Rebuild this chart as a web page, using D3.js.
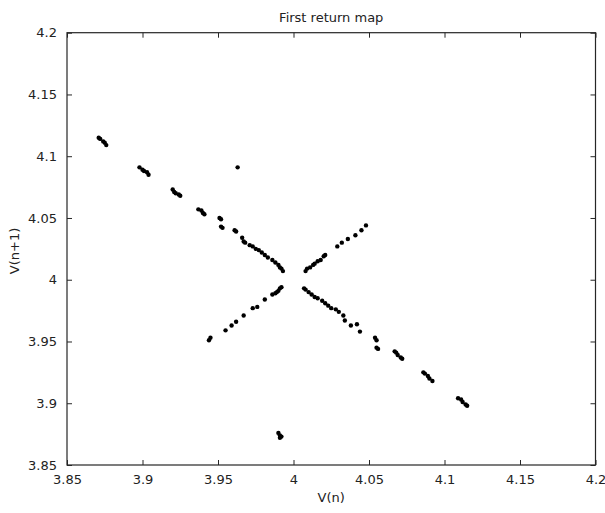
<!DOCTYPE html>
<html>
<head>
<meta charset="utf-8">
<script src="https://cdn.jsdelivr.net/npm/d3@7"></script>
<style>
  body { margin: 0; background: #fff; }
  text { font-family: "DejaVu Sans", sans-serif; fill: #222; }
</style>
</head>
<body>
<div id="container"></div>
<script>
// V(n), V(n+1) pairs
let decreasingArm = [
    [3.871, 4.115], [3.872, 4.114], [3.874, 4.112], [3.875, 4.111], [3.876, 4.109],
    [3.898, 4.091], [3.900, 4.089], [3.901, 4.088], [3.903, 4.087], [3.904, 4.085],
    [3.920, 4.073], [3.921, 4.071], [3.922, 4.070], [3.924, 4.069], [3.925, 4.068],
    [3.937, 4.057], [3.939, 4.056], [3.940, 4.054], [3.941, 4.053],
    [3.951, 4.050], [3.952, 4.049], [3.952, 4.043], [3.953, 4.042],
    [3.961, 4.040], [3.962, 4.039], [3.966, 4.034], [3.967, 4.031], [3.968, 4.030],
    [3.971, 4.028], [3.973, 4.027], [3.975, 4.025], [3.977, 4.024], [3.979, 4.022],
    [3.981, 4.020], [3.983, 4.018], [3.986, 4.016], [3.988, 4.014], [3.990, 4.012],
    [3.991, 4.010], [3.992, 4.009], [3.993, 4.007],
    [4.007, 3.993], [4.008, 3.992], [4.010, 3.990], [4.012, 3.988], [4.014, 3.986],
    [4.016, 3.985], [4.019, 3.983], [4.021, 3.981], [4.023, 3.979], [4.025, 3.977],
    [4.028, 3.976], [4.030, 3.974], [4.033, 3.971], [4.034, 3.967], [4.038, 3.963],
    [4.042, 3.964], [4.044, 3.958],
    [4.054, 3.953], [4.055, 3.951], [4.055, 3.945], [4.056, 3.944],
    [4.067, 3.942], [4.068, 3.941], [4.069, 3.939], [4.071, 3.937], [4.072, 3.936],
    [4.086, 3.925], [4.087, 3.924], [4.089, 3.922], [4.090, 3.920], [4.092, 3.918],
    [4.109, 3.904], [4.111, 3.903], [4.112, 3.901], [4.114, 3.899], [4.115, 3.898]
];

let increasingArm = [
    [3.944, 3.951], [3.945, 3.953], [3.955, 3.959], [3.959, 3.963], [3.962, 3.966],
    [3.967, 3.971], [3.973, 3.977], [3.976, 3.978], [3.981, 3.984],
    [3.986, 3.988], [3.988, 3.989], [3.989, 3.990], [3.990, 3.991], [3.991, 3.993], [3.992, 3.994],
    [4.008, 4.007], [4.009, 4.009], [4.011, 4.010], [4.013, 4.012], [4.014, 4.013],
    [4.016, 4.015], [4.018, 4.016], [4.020, 4.019], [4.021, 4.020],
    [4.029, 4.027], [4.032, 4.030], [4.036, 4.033], [4.041, 4.036], [4.045, 4.040], [4.048, 4.044]
];

let strayPoints = [
    [3.963, 4.091],
    [3.990, 3.876], [3.991, 3.874], [3.991, 3.872], [3.992, 3.873]
];

let ticks = [3.85, 3.9, 3.95, 4, 4.05, 4.1, 4.15, 4.2];

let width = 605;
let height = 513;
let plotLeft = 67, plotRight = 595.5, plotTop = 32.7, plotBottom = 465;

let svg = d3.select("#container")
    .append("svg")
    .attr("width", width)
    .attr("height", height);

let x = d3.scaleLinear().domain([3.85, 4.2]).range([plotLeft, plotRight]);
let y = d3.scaleLinear().domain([3.85, 4.2]).range([plotBottom, plotTop]);

// box
svg.append('rect')
    .attr('x', plotLeft)
    .attr('y', plotTop)
    .attr('width', plotRight - plotLeft)
    .attr('height', plotBottom - plotTop)
    .attr('fill', 'none')
    .attr('stroke', '#262626')
    .attr('stroke-width', 1.2);

// inward ticks on all four sides
let axisStyle = (g) => {
    g.select('.domain').remove();
    g.selectAll('line').attr('stroke', '#262626');
    g.selectAll('text').attr('font-size', 13).attr('fill', '#222');
};

svg.append('g')
    .attr('transform', `translate(0,${plotBottom})`)
    .call(d3.axisBottom(x).tickValues(ticks).tickSize(-5).tickPadding(10).tickFormat(d3.format('')))
    .call(axisStyle);

svg.append('g')
    .attr('transform', `translate(0,${plotTop})`)
    .call(d3.axisTop(x).tickValues(ticks).tickSize(-5).tickFormat(''))
    .call(axisStyle);

svg.append('g')
    .attr('transform', `translate(${plotLeft},0)`)
    .call(d3.axisLeft(y).tickValues(ticks).tickSize(-5).tickPadding(10).tickFormat(d3.format('')))
    .call(axisStyle);

svg.append('g')
    .attr('transform', `translate(${plotRight},0)`)
    .call(d3.axisRight(y).tickValues(ticks).tickSize(-5).tickFormat(''))
    .call(axisStyle);

// points
let allPoints = decreasingArm.concat(increasingArm, strayPoints);

svg.selectAll('.pt')
    .data(allPoints)
    .enter()
    .append('circle')
    .attr('class', 'pt')
    .attr('cx', (d) => { return x(d[0]); })
    .attr('cy', (d) => { return y(d[1]); })
    .attr('r', 2.2)
    .attr('fill', '#000');

// labels
svg.append('text')
    .attr('x', (plotLeft + plotRight) / 2)
    .attr('y', 22)
    .attr('text-anchor', 'middle')
    .attr('font-size', 13)
    .text('First return map');

svg.append('text')
    .attr('x', (plotLeft + plotRight) / 2)
    .attr('y', 502)
    .attr('text-anchor', 'middle')
    .attr('font-size', 13)
    .text('V(n)');

svg.append('text')
    .attr('transform', `translate(19,251) rotate(-90)`)
    .attr('text-anchor', 'middle')
    .attr('font-size', 13)
    .text('V(n+1)');
</script>
</body>
</html>
